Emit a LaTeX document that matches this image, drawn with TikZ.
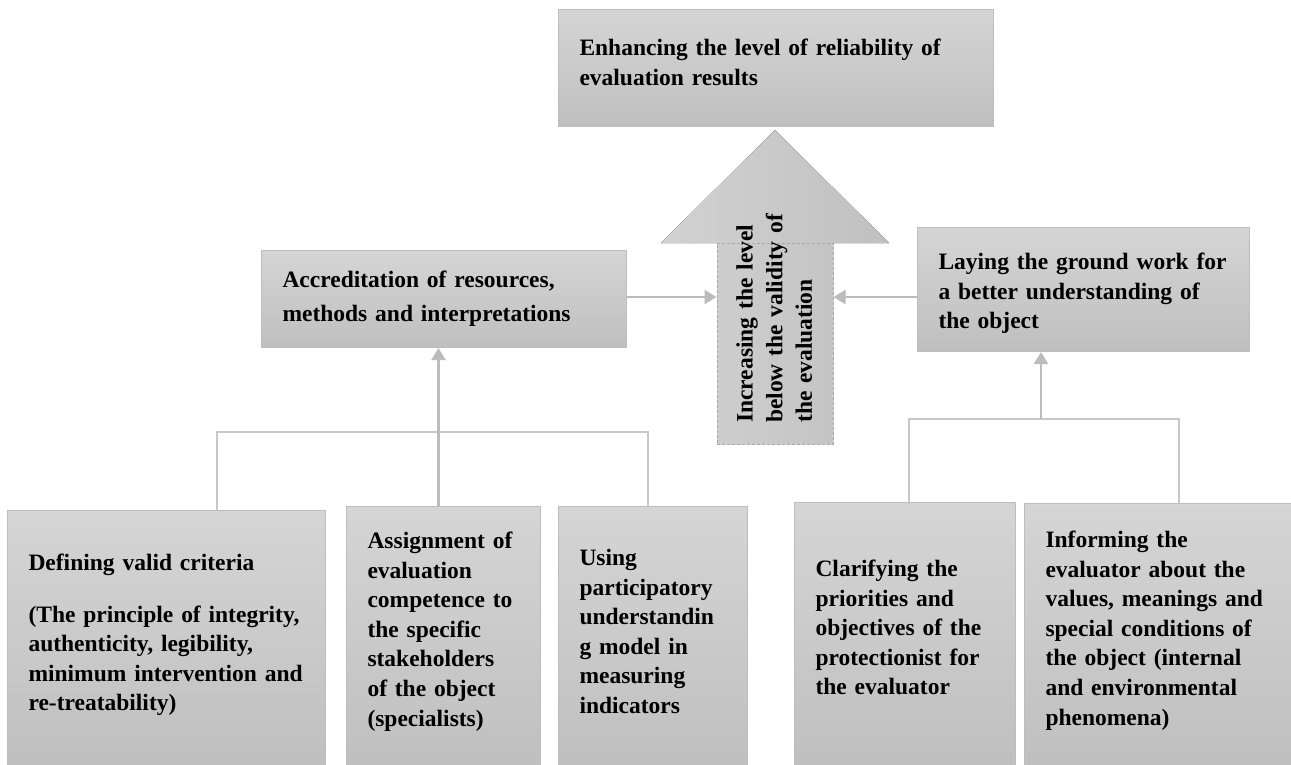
\documentclass[tikz,border=0pt]{standalone}
\usepackage{fontspec}
\setmainfont{Liberation Serif}
\usetikzlibrary{arrows.meta,calc}
\definecolor{boxtop}{HTML}{D5D5D5}
\definecolor{boxbot}{HTML}{BFBFBF}
\definecolor{boxline}{HTML}{BDBDBD}
\definecolor{conncol}{HTML}{BCBCBC}
\definecolor{brackcol}{HTML}{C8C8C8}
\definecolor{arrfill}{HTML}{CACACA}
\definecolor{dashcol}{HTML}{A8A8A8}
\newcommand\nb[1]{\mbox{#1}}
\begin{document}
\begin{tikzpicture}[x=1pt,y=-1pt,
  box/.style={draw=boxline, line width=1pt, top color=boxtop, bottom color=boxbot,
    anchor=north west, inner xsep=21pt, inner ysep=0pt, align=left,
    font=\bfseries\fontsize{23.5}{29.6}\selectfont},
  conn/.style={draw=conncol, line width=2.2pt, -{Triangle[length=12pt,width=14pt]}},
  brack/.style={draw=brackcol, line width=1.2pt},
  shaftbox/.style={draw=dashcol, line width=1pt, dash pattern=on 3pt off 2pt, inner sep=0pt,
    minimum width=116pt, minimum height=201pt},
  vtext/.style={rotate=90, anchor=base west, inner sep=0pt, text width=230pt, align=left,
    font=\bfseries\fontsize{23.5}{29.6}\selectfont}
]
\useasboundingbox (0,0) rectangle (1291,764);
\fill[white] (0,0) rectangle (1291,764);

% big upward arrow
\fill[left color=arrfill!85!white, right color=arrfill!95!black] (661,243) -- (775,130) -- (889,243) -- (833,243) -- (833,444) -- (717,444) -- (717,243) -- cycle;
\node[shaftbox] (shaft) at (775,343.5) {};
\node[vtext] (vt) at (752.7,423) {\nb{Increasing the level}\\\nb{below the validity of}\\\nb{the evaluation}};

% boxes
\node[box, text width=393pt, text height=46pt, text depth=71pt] (bTop) at (558,9)
  {\nb{Enhancing the level of reliability of}\\\nb{evaluation results}};
\node[box, text width=323pt, text height=37pt, text depth=60pt] (bAcc) at (261,250)
  {\nb{Accreditation of resources,}\\[4pt]\nb{methods and interpretations}};
\node[box, text width=290pt, text height=42pt, text depth=82pt] (bLay) at (917,227)
  {\nb{Laying the ground work for}\\\nb{a better understanding of}\\\nb{the object}};
\node[box, text width=276pt, text height=60pt, text depth=200pt] (bDef) at (7,510)
  {\nb{Defining valid criteria}\\[22pt]\nb{(The principle of integrity,}\\\nb{authenticity, legibility,}\\\nb{minimum intervention and}\\\nb{re-treatability)}};
\node[box, text width=152pt, text height=42pt, text depth=222pt] (bAsg) at (346,506)
  {\nb{Assignment of}\\\nb{evaluation}\\\nb{competence to}\\\nb{the specific}\\\nb{stakeholders}\\\nb{of the object}\\\nb{(specialists)}};
\node[box, text width=147pt, text height=59pt, text depth=205pt] (bUse) at (558,506)
  {\nb{Using}\\\nb{participatory}\\\nb{understandin}\\\nb{g model in}\\\nb{measuring}\\\nb{indicators}};
\node[box, text width=179pt, text height=74pt, text depth=194pt] (bClr) at (794,502)
  {\nb{Clarifying the}\\\nb{priorities and}\\\nb{objectives of the}\\\nb{protectionist for}\\\nb{the evaluator}};
\node[box, text width=228pt, text height=44pt, text depth=223pt] (bInf) at (1024,503)
  {\nb{Informing the}\\\nb{evaluator about the}\\\nb{values, meanings and}\\\nb{special conditions of}\\\nb{the object (internal}\\\nb{and environmental}\\\nb{phenomena)}};

% left bracket
\coordinate (lbL) at (217,432);
\coordinate (lbR) at (648,432);
\draw[brack] (bDef.north -| lbL) -- (lbL) -- (lbR) -- (bUse.north -| lbR);
\draw[conn] ([xshift=-5pt]bAsg.north) -- ([xshift=-5pt]bAsg.north |- bAcc.south);

% right bracket
\coordinate (rbL) at (909,419);
\coordinate (rbR) at (1179,419);
\coordinate (rbM) at (1041,419);
\draw[brack] ([yshift=-3pt]bClr.north -| rbL) -- (rbL) -- (rbR) -- (bInf.north -| rbR);
\draw[conn] (rbM) -- (rbM |- bLay.south);

% side arrows into the shaft
\coordinate (my) at (0,297);
\draw[conn] (bAcc.east |- my) -- (shaft.west |- my);
\draw[conn] (bLay.west |- my) -- (shaft.east |- my);
\end{tikzpicture}
\end{document}
